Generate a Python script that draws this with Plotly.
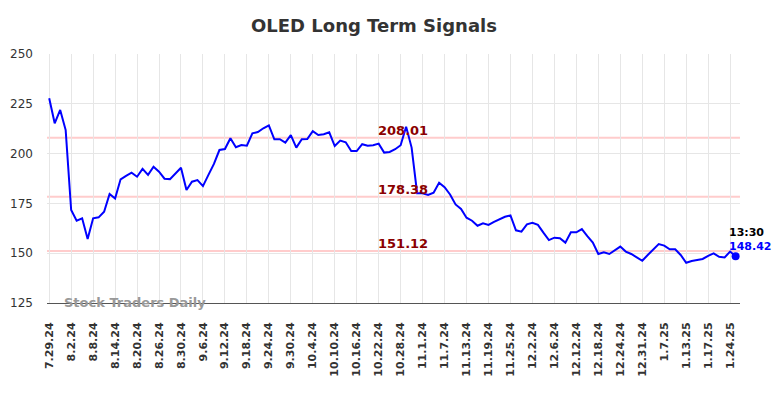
import plotly.graph_objects as go

# Trading days (month -> days) from 7/29/2024 to 1/27/2025
months = [
    (7, 24, [29, 30, 31]),
    (8, 24, [1, 2, 5, 6, 7, 8, 9, 12, 13, 14, 15, 16, 19, 20, 21, 22, 23, 26, 27, 28, 29, 30]),
    (9, 24, [3, 4, 5, 6, 9, 10, 11, 12, 13, 16, 17, 18, 19, 20, 23, 24, 25, 26, 27, 30]),
    (10, 24, [1, 2, 3, 4, 7, 8, 9, 10, 11, 14, 15, 16, 17, 18, 21, 22, 23, 24, 25, 28, 29, 30, 31]),
    (11, 24, [1, 4, 5, 6, 7, 8, 11, 12, 13, 14, 15, 18, 19, 20, 21, 22, 25, 26, 27, 29]),
    (12, 24, [2, 3, 4, 5, 6, 9, 10, 11, 12, 13, 16, 17, 18, 19, 20, 23, 24, 26, 27, 30, 31]),
    (1, 25, [2, 3, 6, 7, 8, 9, 10, 13, 14, 15, 16, 17, 21, 22, 23, 24, 27]),
]
dates = [f"{m}.{d}.{y}" for m, y, days in months for d in days]

prices = [
    227.8, 215.2, 221.9, 211.8, 171.7, 166.3, 167.5, 157.1, 167.5, 168.0,
    170.8, 179.7, 177.5, 187.1, 188.8, 190.4, 188.4, 192.3, 189.3, 193.4,
    190.9, 187.4, 187.2, 190.1, 192.9, 181.7, 185.9, 186.7, 183.7, 189.3,
    194.8, 201.8, 202.3, 207.7, 203.2, 204.3, 204.0, 210.2, 210.8, 212.7,
    214.2, 207.2, 207.2, 205.5, 209.3, 203.0, 207.2, 207.3, 211.3, 209.3,
    209.7, 210.7, 203.8, 206.5, 205.7, 201.3, 201.3, 204.7, 204.0, 204.2,
    205.0, 200.5, 200.8, 202.2, 204.2, 213.5, 203.0, 180.1, 180.1, 179.2,
    180.4, 185.4, 183.1, 179.5, 174.5, 172.2, 167.8, 166.3, 163.8, 165.0,
    164.2, 165.7, 167.0, 168.3, 169.0, 161.5, 160.8, 164.5, 165.3, 164.2,
    160.3, 156.6, 157.8, 157.5, 155.3, 160.5, 160.5, 162.1, 158.6, 155.3,
    149.6, 150.5, 149.6, 151.6, 153.3, 150.8, 149.6, 147.9, 146.2, 149.1,
    151.6, 154.6, 153.8, 152.0, 152.0, 149.1, 145.2, 146.1, 146.6, 147.1,
    148.7, 149.9, 148.2, 147.9, 150.8, 148.42,
]

levels = [208.01, 178.38, 151.12]
level_labels = ["208.01", "178.38", "151.12"]
tick_dates = dates[::4]
y_ticks = [125, 150, 175, 200, 225, 250]
last_time = "13:30"

FONT = "DejaVu Sans"
W, H = 776, 390

fig = go.Figure()
fig.add_trace(go.Scatter(x=dates, y=prices, mode="lines",
                         line=dict(color="#0000ff", width=2), hoverinfo="skip"))
fig.add_trace(go.Scatter(x=[dates[-1]], y=[prices[-1]], mode="markers",
                         marker=dict(color="#0000ff", size=8), hoverinfo="skip"))

for lv, lbl in zip(levels, level_labels):
    fig.add_shape(type="line", xref="paper", x0=0, x1=1, yref="y", y0=lv, y1=lv,
                  line=dict(color="#ffcccc", width=2), layer="below")
    fig.add_annotation(x=64.4, y=lv, xref="x", yref="y", text=f"<b>{lbl}</b>",
                       showarrow=False, yanchor="bottom", yshift=-2,
                       font=dict(family=FONT, size=13, color="#8b0000"))

fig.add_annotation(x=dates[-1], y=prices[-1], text=f"<b>{last_time}</b>", showarrow=False,
                   xanchor="left", xshift=-9, yanchor="middle", yshift=24,
                   font=dict(family=FONT, size=11, color="#000000"))
fig.add_annotation(x=dates[-1], y=prices[-1], text=f"<b>{prices[-1]:.2f}</b>", showarrow=False,
                   xanchor="left", xshift=-9, yanchor="middle", yshift=10,
                   font=dict(family=FONT, size=11, color="#0000ff"))

fig.add_annotation(x=0.021, xref="paper", y=125.3, yref="y", text="<b>Stock Traders Daily</b>",
                   showarrow=False, xanchor="left", yanchor="middle",
                   font=dict(family=FONT, size=13, color="#999999"))

fig.update_layout(
    width=W, height=H,
    margin=dict(l=39, r=44, t=46, b=95, autoexpand=False),
    paper_bgcolor="white", plot_bgcolor="white",
    showlegend=False,
    title=dict(text="<b>OLED Long Term Signals</b>", x=366 / W, xanchor="center",
               y=1 - 18 / H, yanchor="middle",
               font=dict(family=FONT, size=18, color="#333333")),
    font=dict(family=FONT, color="#333333"),
)
fig.update_xaxes(type="category", range=[-0.4, 125.8], automargin=False,
                 tickmode="array", tickvals=tick_dates,
                 ticktext=[f"<b>{t}</b>" for t in tick_dates],
                 tickangle=-90, tickfont=dict(family=FONT, size=11, color="#333333"),
                 ticklabelstandoff=14,
                 showgrid=True, gridcolor="#e6e6e6", gridwidth=1,
                 showline=True, linecolor="#555555", linewidth=1,
                 ticks="", zeroline=False)
fig.update_yaxes(range=[125, 250], tickvals=y_ticks, automargin=False,
                 tickfont=dict(family=FONT, size=12, color="#333333"),
                 ticklabelstandoff=13,
                 showgrid=True, gridcolor="#e6e6e6", gridwidth=1,
                 showline=False, zeroline=False, ticks="")

fig.write_html("out.html")
